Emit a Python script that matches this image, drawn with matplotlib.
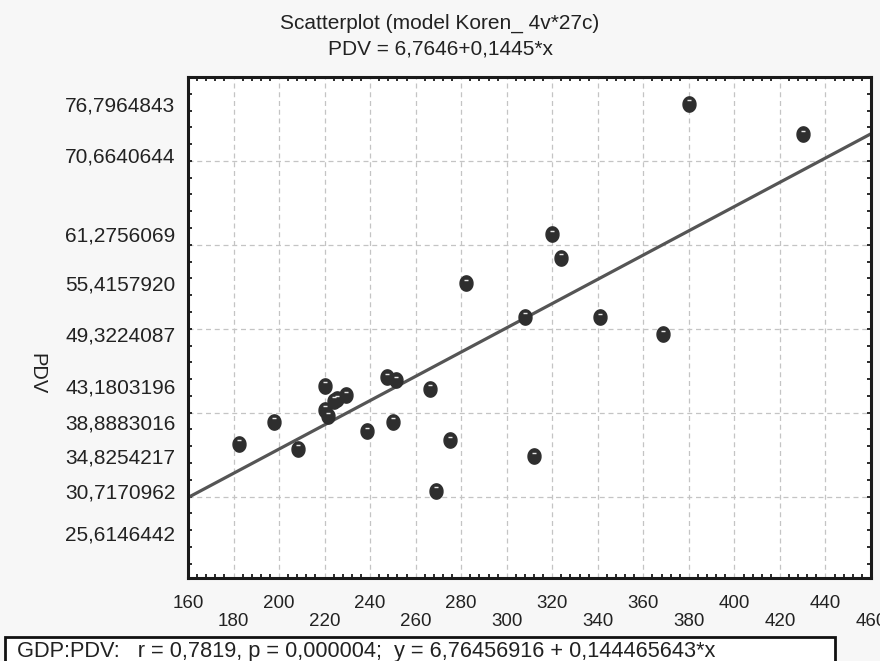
import numpy as np
import matplotlib
matplotlib.use("Agg")
import matplotlib.pyplot as plt
from matplotlib.patches import Rectangle
from matplotlib.transforms import offset_copy

plt.rcParams["font.family"] = ["Liberation Sans", "DejaVu Sans"]

# =====================================================
# DATA
# =====================================================

gdp = [182.4, 197.9, 208.3, 220.2, 224.0, 225.5, 229.4, 220.2, 221.6,
       238.7, 247.6, 251.5, 266.1, 250.0, 275.0, 268.8, 281.9, 308.1,
       319.9, 323.9, 341.0, 368.5, 311.9, 380.2, 430.2]

pdv = [36.30, 38.89, 35.68, 43.18, 41.41, 41.60, 42.08, 40.37, 39.59,
       37.80, 44.22, 43.84, 42.83, 38.89, 36.74, 30.72, 55.42, 51.42,
       61.28, 58.47, 51.38, 49.32, 34.83, 76.80, 73.17]

intercept = 6.7646
slope = 0.1445

x_ticks = [160, 180, 200, 220, 240, 260, 280, 300, 320, 340, 360, 380,
           400, 420, 440, 460]

y_tick_values = [76.7964843, 70.6640644, 61.2756069, 55.4157920, 49.3224087,
                 43.1803196, 38.8883016, 34.8254217, 30.7170962, 25.6146442]
y_tick_labels = ["76,7964843", "70,6640644", "61,2756069", "55,4157920",
                 "49,3224087", "43,1803196", "38,8883016", "34,8254217",
                 "30,7170962", "25,6146442"]

y_grid = [30, 40, 50, 60, 70]

title_1 = "Scatterplot (model Koren_ 4v*27c)"
title_2 = "PDV = 6,7646+0,1445*x"
footer = "GDP:PDV:   r = 0,7819, p = 0,000004;  y = 6,76456916 + 0,144465643*x"

# =====================================================
# FIGURE
# =====================================================

W, H = 880, 661
fig = plt.figure(figsize=(W / 100, H / 100), dpi=100)
fig.patch.set_facecolor("#f7f7f7")

left, right, top, bottom = 188, 871, 77, 578
ax = fig.add_axes([left / W, 1 - bottom / H, (right - left) / W, (bottom - top) / H])
ax.set_facecolor("white")

ax.set_xlim(160, 460)
ax.set_ylim(20.3, 80)

# grid
for g in y_grid:
    ax.axhline(g, color="#c4c4c4", linewidth=0.9, linestyle=(0, (4, 3)), zorder=1)
for g in x_ticks[1:-1]:
    ax.axvline(g, color="#c4c4c4", linewidth=0.9, linestyle=(0, (4, 3)), zorder=1)

# regression line
xs = np.array([160, 460])
ax.plot(xs, intercept + slope * xs, color="#555555", linewidth=2.3, zorder=2)

# points (slightly tall ellipses with a small highlight)
t = np.linspace(0, 2 * np.pi, 40)
ellipse = list(zip(0.85 * np.cos(t), np.sin(t)))
ax.plot(gdp, pdv, linestyle="none", marker=ellipse, markersize=11,
        markerfacecolor="#2e2e2e", markeredgecolor="#2e2e2e", zorder=3)
shine = offset_copy(ax.transData, fig=fig, x=0, y=3.5, units="dots")
ax.plot(gdp, pdv, linestyle="none", marker="_", markersize=3.5,
        markeredgewidth=1.0, color="#e8e8e8", transform=shine, zorder=4)

# =====================================================
# AXES STYLE
# =====================================================

for s in ax.spines.values():
    s.set_linewidth(2.2)
    s.set_color("#1a1a1a")

ax.set_xticks(x_ticks)
ax.set_xticklabels([("\n" if i % 2 else "") + str(v) for i, v in enumerate(x_ticks)],
                   fontsize=13.5, color="#222222", linespacing=1.02)
ax.set_xticks(np.arange(160, 461, 4), minor=True)

ax.set_yticks(y_tick_values)
ax.set_yticklabels(y_tick_labels, fontsize=15, color="#222222")
ax.set_yticks(np.arange(22, 80, 2), minor=True)

ax.tick_params(axis="x", which="major", length=0, pad=12.5)
ax.tick_params(axis="y", which="major", length=0, pad=9)
ax.tick_params(which="minor", direction="in", length=3, width=1.3,
               color="#1a1a1a", top=True, right=True, bottom=True, left=True)

fig.text(37 / W, 1 - 374 / H, "PDV", rotation=-90,
         fontsize=14.5, color="#222222", ha="center", va="center")

fig.text(0.5, 1 - 23 / H, title_1, ha="center", va="center", fontsize=15, color="#222222")
fig.text(0.5, 1 - 49 / H, title_2, ha="center", va="center", fontsize=15, color="#222222")

# footer box
fig.patches.append(Rectangle((5 / W, -0.02), 830 / W, (661 - 637) / H + 0.02,
                             transform=fig.transFigure, facecolor="white",
                             edgecolor="#111111", linewidth=2.0))
fig.text(17 / W, 1 - 651 / H, footer, ha="left", va="center", fontsize=15.7, color="#222222")

fig.savefig("out.png", dpi=100, facecolor=fig.get_facecolor())
